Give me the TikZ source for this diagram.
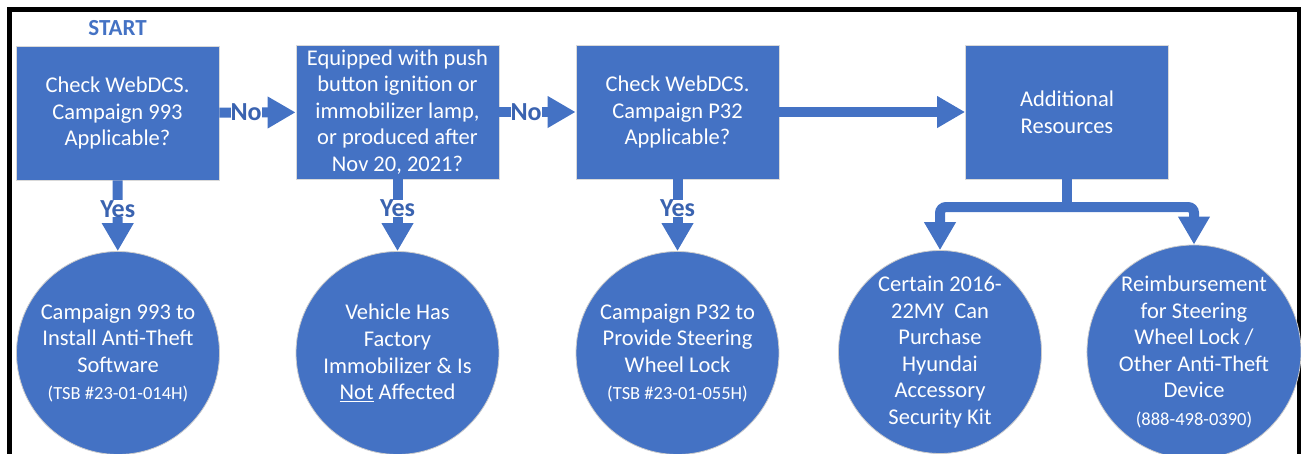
\documentclass[tikz,border=0pt]{standalone}
\usepackage{fontspec}
\setmainfont{Carlito}
\usepackage{xcolor}
\usetikzlibrary{arrows.meta, positioning}
\definecolor{ofblue}{HTML}{4472C4}
\definecolor{lblblue}{HTML}{3A63B0}
\newcommand{\tsbfont}{\fontsize{18.5}{21}\selectfont}

\begin{document}
\begin{tikzpicture}[x=1pt, y=-1pt,
			box/.style = {rectangle, fill=ofblue, draw=black!15, line width=0.8pt,
				minimum width=203pt, minimum height=134pt, inner sep=0pt,
				align=center, text=white, font=\fontsize{22.5}{26.6}\selectfont},
			disc/.style = {circle, fill=ofblue, draw=black!20, line width=0.8pt,
				minimum size=203pt, inner sep=0pt,
				align=center, text=white, font=\fontsize{22.5}{26.6}\selectfont},
			flow/.style = {draw=ofblue, line width=10pt, -{Triangle[length=28pt, width=30pt]}},
			lbl/.style = {fill=white, inner sep=0pt, text=lblblue, font=\bfseries\fontsize{26}{28}\selectfont}]
			\useasboundingbox (0,0) rectangle (1301,453);
			\draw[line width=5pt] (9,470) -- (9,9) -- (1299,9) -- (1299,470);
			% questions
			\node at (117.5,28) (start) [text=ofblue, font=\bfseries\fontsize{23}{25}\selectfont] {START};
			\node at (117.5,113) (chk993) [box] {Check WebDCS.\\Campaign 993\\Applicable?};
			\node at (397.5,112) (equip) [box] {Equipped with push\\button ignition or\\immobilizer lamp,\\or produced after\\Nov 20, 2021?};
			\node at (677.5,112) (chkP32) [box] {Check WebDCS.\\Campaign P32\\Applicable?};
			\node at (1067,112) (addres) [box] {Additional\\Resources};
			% outcomes
			\node at (118,353) (camp993) [disc] {Campaign 993 to\\Install Anti-Theft\\Software\\[1pt]{\tsbfont(TSB \#23-01-014H)}};
			\node at (397.5,353) (factory) [disc] {Vehicle Has\\Factory\\Immobilizer \& Is\\\underline{Not} Affected};
			\node at (677.5,353) (campP32) [disc] {Campaign P32 to\\Provide Steering\\Wheel Lock\\[1pt]{\tsbfont(TSB \#23-01-055H)}};
			\node at (940,352) (kit) [disc] {Certain 2016-\\22MY\ \ Can\\Purchase\\Hyundai\\Accessory\\Security Kit};
			\node at (1194,352) (reimb) [disc] {Reimbursement\\for Steering\\Wheel Lock /\\Other Anti-Theft\\Device\\[1pt]{\tsbfont(888-498-0390)}};
			% connectors
			\draw[flow] (chk993) -- node[lbl, pos=0.35] {No} (equip);
			\draw[flow] (equip) -- node[lbl, pos=0.35] {No} (chkP32);
			\draw[flow] (chkP32) -- (addres);
			\draw[flow] (chk993) -- node[lbl, pos=0.4] {Yes} (camp993);
			\draw[flow] (equip) -- node[lbl, pos=0.4] {Yes} (factory);
			\draw[flow] (chkP32) -- node[lbl, pos=0.4] {Yes} (campP32);
			\coordinate (split) at (1067,207);
			\draw[draw=ofblue, line width=10pt] (addres.south) -- (split);
			\draw[flow, rounded corners=6pt] (split) -| (kit.north);
			\draw[flow, rounded corners=6pt] (split) -| (reimb.north);
		\end{tikzpicture}
\end{document}
